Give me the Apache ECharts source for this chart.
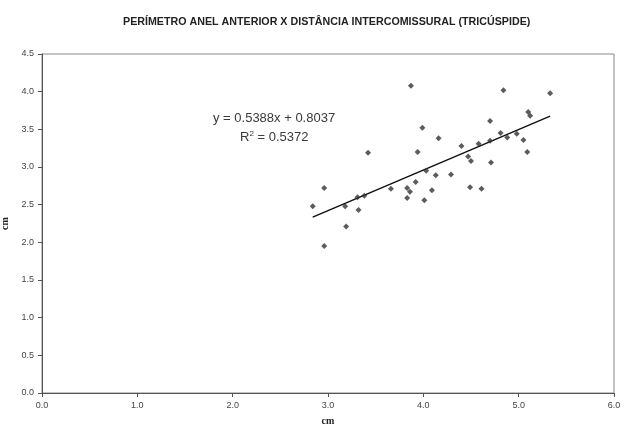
<!DOCTYPE html>
<html>
<head>
<meta charset="utf-8">
<script src="https://cdn.jsdelivr.net/npm/echarts@6/dist/echarts.min.js"></script>
<style>
  html, body { margin: 0; padding: 0; background: #fff; }
  #main { width: 622px; height: 425px; }
</style>
</head>
<body>
<div id="main"></div>
<script>
// perimetro anel anterior (x) e distancia intercomissural (y), em cm
var perimetro = [2.84, 2.96, 2.96, 3.18, 3.19, 3.31, 3.32, 3.38, 3.42, 3.66,
    3.83, 3.83, 3.86, 3.87, 3.92, 3.94, 3.99, 4.01, 4.03, 4.09,
    4.13, 4.16, 4.29, 4.40, 4.47, 4.50, 4.49, 4.58, 4.61, 4.70,
    4.70, 4.71, 4.81, 4.84, 4.88, 4.98, 5.05, 5.09, 5.10, 5.12, 5.33];
var distancia = [2.48, 2.72, 1.95, 2.48, 2.21, 2.60, 2.43, 2.62, 3.19, 2.71,
    2.72, 2.59, 2.67, 4.08, 2.80, 3.20, 3.52, 2.56, 2.95, 2.69,
    2.89, 3.38, 2.90, 3.28, 3.14, 3.08, 2.73, 3.31, 2.71, 3.35,
    3.61, 3.06, 3.45, 4.02, 3.39, 3.44, 3.36, 3.20, 3.73, 3.68, 3.98];
var xTicks = ['0.0', '1.0', '2.0', '3.0', '4.0', '5.0', '6.0'];
var yTicks = ['0.0', '0.5', '1.0', '1.5', '2.0', '2.5', '3.0', '3.5', '4.0', '4.5'];
var slope = 0.5388, intercept = 0.8037, r2 = 0.5372;

var pontos = perimetro.map(function (v, i) { return [v, distancia[i]]; });
var xMin = Math.min.apply(null, perimetro);
var xMax = Math.max.apply(null, perimetro);
var tendencia = [[xMin, slope * xMin + intercept], [xMax, slope * xMax + intercept]];

var myChart = echarts.init(document.getElementById('main'));
var option = {
    backgroundColor: '#fff',
    animation: false,
    title: {
        text: 'PERÍMETRO ANEL ANTERIOR X DISTÂNCIA INTERCOMISSURAL (TRICÚSPIDE)',
        left: 118,
        top: 12,
        textStyle: {
            fontFamily: 'Liberation Sans, Arial',
            fontSize: 10.7,
            fontWeight: 'bold',
            color: '#222'
        }
    },
    grid: {
        left: 42,
        right: 8,
        top: 54,
        bottom: 32,
        containLabel: false,
        outerBoundsMode: 'none',
        show: true,
        borderColor: '#888',
        borderWidth: 1
    },
    xAxis: {
        type: 'value',
        min: 0,
        max: 6,
        interval: 1,
        name: 'cm',
        nameLocation: 'middle',
        nameGap: 23,
        nameTextStyle: { fontFamily: 'Liberation Serif', fontWeight: 'bold', fontSize: 10, color: '#222' },
        splitLine: { show: false },
        axisLine: { lineStyle: { color: '#555', width: 1 } },
        axisTick: { length: 4, lineStyle: { color: '#555' } },
        axisLabel: {
            fontFamily: 'Liberation Sans, Arial',
            fontSize: 9,
            color: '#444',
            margin: 8,
            formatter: function (v) { return xTicks[Math.round(v)]; }
        }
    },
    yAxis: {
        type: 'value',
        min: 0,
        max: 4.5,
        interval: 0.5,
        name: 'cm',
        nameLocation: 'middle',
        nameGap: 30,
        nameRotate: 90,
        nameTextStyle: { fontFamily: 'Liberation Serif', fontWeight: 'bold', fontSize: 10, color: '#222' },
        splitLine: { show: false },
        axisLine: { show: true, lineStyle: { color: '#555', width: 1 } },
        axisTick: { show: true, length: 4, lineStyle: { color: '#555' } },
        axisLabel: {
            fontFamily: 'Liberation Sans, Arial',
            fontSize: 9,
            color: '#444',
            margin: 8,
            formatter: function (v) { return yTicks[Math.round(v * 2)]; }
        }
    },
    series: [
        {
            name: 'pontos',
            type: 'scatter',
            data: pontos,
            symbol: 'diamond',
            symbolSize: 6,
            itemStyle: { color: '#333' },
            z: 3
        },
        {
            name: 'tendencia',
            type: 'line',
            data: tendencia,
            showSymbol: false,
            symbol: 'none',
            lineStyle: { color: '#111', width: 1.5 },
            z: 2
        }
    ],
    graphic: [
        {
            type: 'text',
            left: 213,
            top: 112,
            style: {
                text: 'y = ' + slope.toFixed(4) + 'x + ' + intercept.toFixed(4),
                font: '13px Liberation Sans, Arial',
                fill: '#3a3a3a'
            }
        },
        {
            type: 'text',
            left: 240,
            top: 130,
            style: {
                text: '{r|R}{s|2}{r| = ' + r2.toFixed(4) + '}',
                rich: {
                    r: { font: '13px Liberation Sans, Arial', fill: '#3a3a3a', verticalAlign: 'bottom' },
                    s: { font: '8px Liberation Sans, Arial', fill: '#3a3a3a', verticalAlign: 'top', padding: [0, 0, 6, 0] }
                }
            }
        }
    ]
};
myChart.setOption(option);
</script>
</body>
</html>
